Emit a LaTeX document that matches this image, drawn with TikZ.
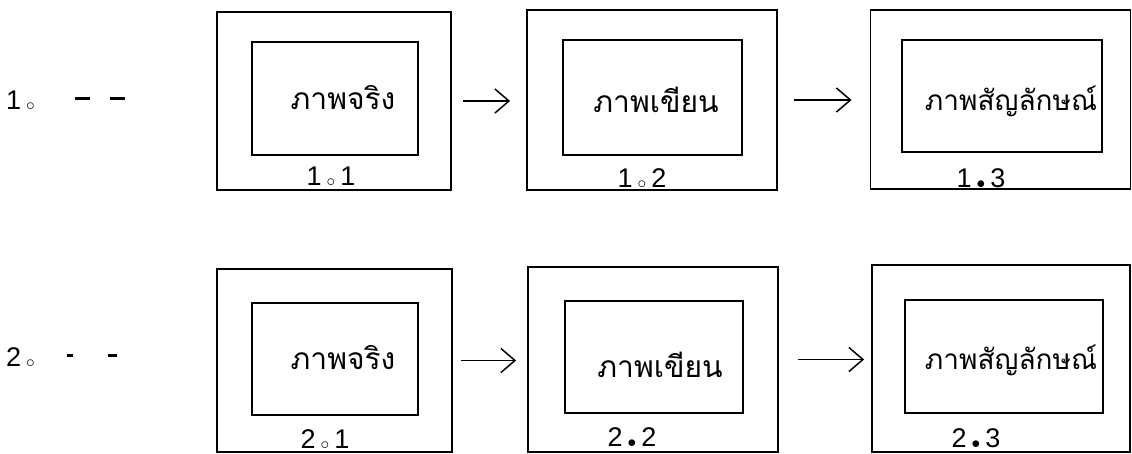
\documentclass[tikz,border=0pt]{standalone}
\usepackage{fontspec}
\setmainfont{Liberation Sans}
\newfontfamily\thai[Script=Thai]{Loma}
\usetikzlibrary{arrows.meta}
\newcommand{\opdot}{\kern5pt\raisebox{-1pt}{$\scriptstyle\circ$}\kern5pt}
\newcommand{\fldot}{\kern5pt\raisebox{-1pt}{$\scriptstyle\bullet$}\kern5pt}
\newcommand{\dsh}[1]{\rule[5pt]{#1}{2.2pt}}
\tikzset{
  outerbox/.style={draw, line width=1.8pt, inner sep=0pt},
  innerbox/.style={draw, line width=1.4pt, inner sep=0pt},
  thaitext/.style={font=\thai\fontsize{30}{32}\selectfont, inner sep=0pt},
  thaismall/.style={font=\thai\fontsize{28}{30}\selectfont, inner sep=0pt},
  numlbl/.style={font=\fontsize{27}{30}\selectfont, inner sep=0pt},
  arr/.style={line width=1.5pt, -{Straight Barb[length=14pt,width=24pt,line width=1.5pt]}}
}
\begin{document}
\begin{tikzpicture}[x=1pt,y=-1pt]
\useasboundingbox (0,0) rectangle (1132,454);
% row 1
\node[numlbl, anchor=west] (r1) at (6,101) {1\opdot};
\node[numlbl, anchor=west] (d1) at (75,101) {\dsh{15pt}\hspace{20pt}\dsh{15pt}};
\node[outerbox, minimum width=234pt, minimum height=178pt] (o11) at (334,101) {};
\node[innerbox, minimum width=166pt, minimum height=113pt] (i11) at (335,98.5) {};
\node[thaitext] (t11) at (343,98) {ภาพจริง};
\node[numlbl] (l11) at (331,177) {1\opdot1};
\node[outerbox, minimum width=250pt, minimum height=180pt] (o12) at (652,100) {};
\node[innerbox, minimum width=179pt, minimum height=115pt] (i12) at (652.5,97.5) {};
\node[thaitext] (t12) at (656,100) {ภาพเขียน};
\node[numlbl] (l12) at (642,179) {1\opdot2};
\node[outerbox, minimum width=260pt, minimum height=179pt] (o13) at (1000.5,99.5) {};
\node[innerbox, minimum width=200pt, minimum height=112pt] (i13) at (1002,96) {};
\node[thaismall] (t13) at (1011,101) {ภาพสัญลักษณ์};
\node[numlbl] (l13) at (981,179) {1\fldot3};
\draw[arr, shorten <=11pt, shorten >=16pt] (o11.east) -- (o11.east -| o12.west);
\draw[arr, shorten <=16pt, shorten >=18pt] (o12.east) -- (o12.east -| o13.west);
% row 2
\node[numlbl, anchor=west] (r2) at (6,358) {2\opdot};
\node[numlbl, anchor=west] (d2) at (67,358) {\dsh{6pt}\hspace{35pt}\dsh{9pt}};
\node[outerbox, minimum width=235pt, minimum height=183pt] (o21) at (334.5,360.5) {};
\node[innerbox, minimum width=166pt, minimum height=112pt] (i21) at (335,359) {};
\node[thaitext] (t21) at (343,358) {ภาพจริง};
\node[numlbl] (l21) at (325,440) {2\opdot1};
\node[outerbox, minimum width=250pt, minimum height=185pt] (o22) at (653,359.5) {};
\node[innerbox, minimum width=178pt, minimum height=112pt] (i22) at (654,357) {};
\node[thaitext] (t22) at (660,365) {ภาพเขียน};
\node[numlbl] (l22) at (632,438) {2\fldot2};
\node[outerbox, minimum width=258pt, minimum height=187pt] (o23) at (1001,358.5) {};
\node[innerbox, minimum width=198pt, minimum height=113pt] (i23) at (1004,356.5) {};
\node[thaismall] (t23) at (1011,360) {ภาพสัญลักษณ์};
\node[numlbl] (l23) at (976,439) {2\fldot3};
\draw[arr, shorten <=8pt, shorten >=11pt] (o21.east) -- (o21.east -| o22.west);
\draw[arr, shorten <=19pt, shorten >=7pt] (o22.east) -- (o22.east -| o23.west);
\end{tikzpicture}
\end{document}
